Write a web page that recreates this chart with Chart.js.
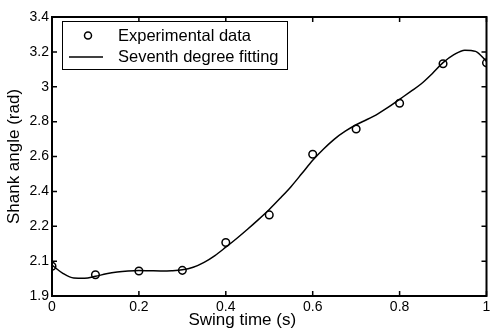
<!DOCTYPE html>
<html>
<head>
<meta charset="utf-8">
<title>Shank angle vs swing time</title>
<script src="https://cdn.jsdelivr.net/npm/chart.js@4.4.1/dist/chart.umd.min.js"></script>
<style>
  html, body { margin: 0; padding: 0; background: #fff; }
  #wrap { width: 492px; height: 328px; }
</style>
</head>
<body>
<div id="wrap"><canvas id="chart" width="492" height="328"></canvas></div>
<script>
// ─── Data ───────────────────────────────
const expTime  = [0, 0.1, 0.2, 0.3, 0.4, 0.5, 0.6, 0.7, 0.8, 0.9, 1];
const expAngle = [1.971, 1.922, 1.943, 1.947, 2.107, 2.265, 2.613, 2.758, 2.905, 3.132, 3.137];

const fitTime  = [0, 0.025, 0.05, 0.075, 0.1, 0.125, 0.15, 0.175, 0.2, 0.225, 0.25, 0.275,
                  0.3, 0.325, 0.35, 0.375, 0.4, 0.425, 0.45, 0.475, 0.5, 0.525, 0.55, 0.575,
                  0.6, 0.625, 0.65, 0.675, 0.7, 0.725, 0.75, 0.775, 0.8, 0.825, 0.85, 0.875,
                  0.9, 0.925, 0.95, 0.975, 1];
const fitAngle = [1.977, 1.930, 1.903, 1.902, 1.913, 1.927, 1.937, 1.943, 1.946, 1.945, 1.944, 1.945,
                  1.950, 1.965, 1.993, 2.032, 2.080, 2.130, 2.183, 2.238, 2.296, 2.360, 2.427, 2.502,
                  2.578, 2.643, 2.700, 2.745, 2.782, 2.812, 2.845, 2.884, 2.928, 2.972, 3.017, 3.075,
                  3.138, 3.184, 3.210, 3.203, 3.145];

const xTicks      = [0, 0.2, 0.4, 0.6, 0.8, 1];
const xTickLabels = ['0', '0.2', '0.4', '0.6', '0.8', '1'];
const yTicks      = [1.8, 2.0, 2.2, 2.4, 2.6, 2.8, 3.0, 3.2, 3.4];
const yTickLabels = ['1.9', '2.1', '2.2', '2.4', '2.6', '2.8', '3', '3.2', '3.4'];

const seriesLabels = ['Experimental data', 'Seventh degree fitting'];
const xTitle = 'Swing time (s)';
const yTitle = 'Shank angle (rad)';

const FONT = '"Liberation Sans", Arial, Helvetica, sans-serif';
Chart.defaults.font.family = FONT;
Chart.defaults.color = '#000';

// ─── Frame, inward ticks, legend, x title ─
const matlabFrame = {
  id: 'matlabFrame',
  afterDraw(chart) {
    const { ctx, chartArea: a, scales: { x, y } } = chart;
    const tl = 5;
    ctx.save();
    ctx.strokeStyle = '#000';

    // ticks
    ctx.lineWidth = 1.5;
    ctx.beginPath();
    x.ticks.forEach(t => {
      const px = x.getPixelForValue(t.value);
      ctx.moveTo(px, a.bottom); ctx.lineTo(px, a.bottom - tl);
      ctx.moveTo(px, a.top);    ctx.lineTo(px, a.top + tl);
    });
    y.ticks.forEach(t => {
      const py = y.getPixelForValue(t.value);
      ctx.moveTo(a.left, py);  ctx.lineTo(a.left + tl, py);
      ctx.moveTo(a.right, py); ctx.lineTo(a.right - tl, py);
    });
    ctx.stroke();

    // box
    ctx.lineWidth = 2;
    ctx.strokeRect(a.left, a.top, a.right - a.left, a.bottom - a.top);

    // legend
    const lx = a.left + 10, ly = a.top + 4, lw = 225, lh = 48;
    ctx.fillStyle = '#fff';
    ctx.fillRect(lx, ly, lw, lh);
    ctx.lineWidth = 1;
    ctx.strokeRect(lx + 0.5, ly + 0.5, lw, lh);

    const row1 = ly + 14.5, row2 = ly + 36;
    ctx.lineWidth = 1.5;
    ctx.beginPath();
    ctx.arc(lx + 26, row1, 3.5, 0, Math.PI * 2);
    ctx.stroke();
    ctx.beginPath();
    ctx.moveTo(lx + 7, row2); ctx.lineTo(lx + 41, row2);
    ctx.stroke();

    ctx.fillStyle = '#000';
    ctx.font = '16.5px ' + FONT;
    ctx.textAlign = 'left';
    ctx.textBaseline = 'middle';
    ctx.fillText(seriesLabels[0], lx + 56, row1 + 0.5);
    ctx.fillText(seriesLabels[1], lx + 56, row2 + 0.5);

    // x title (sits left of centre in the original)
    ctx.font = '17px ' + FONT;
    ctx.textAlign = 'center';
    ctx.textBaseline = 'alphabetic';
    ctx.fillText(xTitle, (a.left + a.right) / 2 - 27, 325);
    ctx.restore();
  }
};

// ─── Chart ──────────────────────────────
new Chart(document.getElementById('chart'), {
  type: 'scatter',
  data: {
    datasets: [
      {
        label: seriesLabels[1],
        data: fitTime.map((t, i) => ({ x: t, y: fitAngle[i] })),
        showLine: true,
        cubicInterpolationMode: 'monotone',
        borderColor: '#000',
        borderWidth: 1.5,
        pointRadius: 0,
        pointHoverRadius: 0
      },
      {
        label: seriesLabels[0],
        data: expTime.map((t, i) => ({ x: t, y: expAngle[i] })),
        showLine: false,
        pointStyle: 'circle',
        pointRadius: 3.8,
        pointBorderWidth: 1.5,
        pointBorderColor: '#000',
        pointBackgroundColor: 'rgba(0,0,0,0)'
      }
    ]
  },
  options: {
    responsive: false,
    animation: false,
    layout: { padding: { top: 17, right: 2, left: 0, bottom: 0 } },
    plugins: {
      legend: { display: false },
      tooltip: { enabled: false }
    },
    scales: {
      x: {
        type: 'linear',
        min: 0, max: 1,
        afterBuildTicks: s => { s.ticks = xTicks.map(v => ({ value: v })); },
        afterFit: s => { s.height = 32; s.paddingLeft = 0; s.paddingRight = 0; },
        grid: { display: false, drawTicks: false },
        border: { display: false },
        ticks: {
          padding: 3,
          maxRotation: 0,
          font: { size: 14 },
          color: '#000',
          callback: (v, i) => xTickLabels[i]
        },
        title: { display: false, text: xTitle }
      },
      y: {
        type: 'linear',
        min: 1.8, max: 3.4,
        afterBuildTicks: s => { s.ticks = yTicks.map(v => ({ value: v })); },
        afterFit: s => { s.width = 52; s.paddingTop = 0; s.paddingBottom = 0; },
        grid: { display: false, drawTicks: false },
        border: { display: false },
        ticks: {
          padding: 3,
          font: { size: 14 },
          color: '#000',
          callback: (v, i) => yTickLabels[i]
        },
        title: {
          display: true,
          text: yTitle,
          font: { size: 17 },
          color: '#000',
          padding: { top: 4, bottom: 0 }
        }
      }
    }
  },
  plugins: [matlabFrame]
});
</script>
</body>
</html>
